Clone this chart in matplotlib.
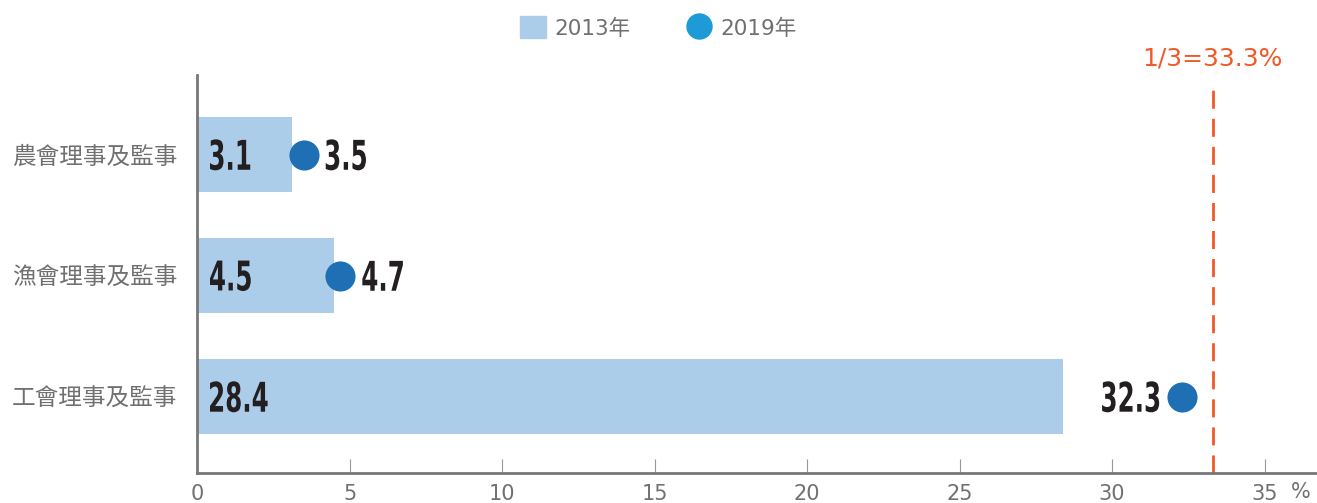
import matplotlib.pyplot as plt
from matplotlib.lines import Line2D
from matplotlib.patches import Patch, PathPatch
from matplotlib.textpath import TextPath
from matplotlib.font_manager import FontProperties
from matplotlib.transforms import Affine2D

plt.rcParams['font.family'] = ['Noto Sans CJK TC', 'DejaVu Sans']

categories = ['農會理事及監事', '漁會理事及監事', '工會理事及監事']
v2013 = [3.1, 4.5, 28.4]
v2019 = [3.5, 4.7, 32.3]
xticks = [0, 5, 10, 15, 20, 25, 30, 35]
threshold = 33.3

bar_c = '#abcde9'
dot_c = '#1f6fb4'
legend_dot_c = '#1e9ad6'
line_c = '#f05a28'
grey = '#707070'
latin = ['DejaVu Sans', 'Noto Sans CJK TC']

fig = plt.figure(figsize=(13.17, 5.03), dpi=100)
ax = fig.add_axes([197 / 1317, 30 / 503, 1 - 197 / 1317, 398 / 503])
ax.set_xlim(0, 36.72)
ax.set_ylim(2.63, -0.66)


# no condensed bold face installed, so squeeze a bold one horizontally
def cond_text(x, y, s, ha='left', size=41, sx=0.6, offset=0):
    tp = TextPath((0, 0), s, size=size, prop=FontProperties(family='DejaVu Sans', weight='bold'))
    bb = tp.get_extents()
    x0 = bb.x0 if ha == 'left' else bb.x1
    px, py = ax.transData.transform((x, y))
    tr = (Affine2D().translate(-x0, -(bb.y0 + bb.y1) / 2).scale(sx, 1)
          .translate(px + offset, py))
    fig.add_artist(PathPatch(tp, transform=tr, color='#231f20', lw=0, zorder=5))


y = list(range(len(categories)))
ax.barh(y, v2013, height=0.62, color=bar_c, zorder=2)
ax.scatter(v2019, y, s=470, color=dot_c, zorder=3, linewidths=0)

for i, (a, b) in enumerate(zip(v2013, v2019)):
    cond_text(0, i, f'{a}', 'left', offset=13)
    if b - a > 1:
        cond_text(b, i, f'{b}', 'right', offset=-23)
    else:
        cond_text(b, i, f'{b}', 'left', offset=22)

ax.axvline(threshold, ymin=0, ymax=0.985, color=line_c, lw=2, ls=(0, (6.5, 3.6)), zorder=1)
ax.text(threshold, -0.80, '1/3=33.3%', color=line_c, fontsize=18, ha='center',
        va='center', family=['DejaVu Sans'], clip_on=False)

ax.set_yticks(y)
ax.set_yticklabels(categories, fontsize=17, color=grey)
ax.set_xticks(xticks)
ax.set_xticklabels([str(t) for t in xticks], fontsize=15, color=grey, family=['DejaVu Sans'])
ax.tick_params(axis='y', length=0, pad=14)
ax.tick_params(axis='x', direction='in', length=10, color='#999999', pad=8)
ax.text(36.2, -0.048, '%', transform=ax.get_xaxis_transform(), fontsize=15,
        color=grey, ha='center', va='center', family=['DejaVu Sans'])

for s in ['top', 'right']:
    ax.spines[s].set_visible(False)
for s in ['left', 'bottom']:
    ax.spines[s].set_color('#777777')
    ax.spines[s].set_linewidth(2)

handles = [Patch(color=bar_c, label='2013年'),
           Line2D([], [], marker='o', ls='', markersize=18, color=legend_dot_c, label='2019年')]
leg = fig.legend(handles=handles, loc='upper center', bbox_to_anchor=(0.5, 1.006), ncol=2,
                 frameon=False, prop={'family': latin, 'size': 15.5}, handlelength=1.2,
                 handleheight=1.2, columnspacing=2.6, handletextpad=0.4)
for t in leg.get_texts():
    t.set_color(grey)

fig.savefig('out.png', dpi=100)
